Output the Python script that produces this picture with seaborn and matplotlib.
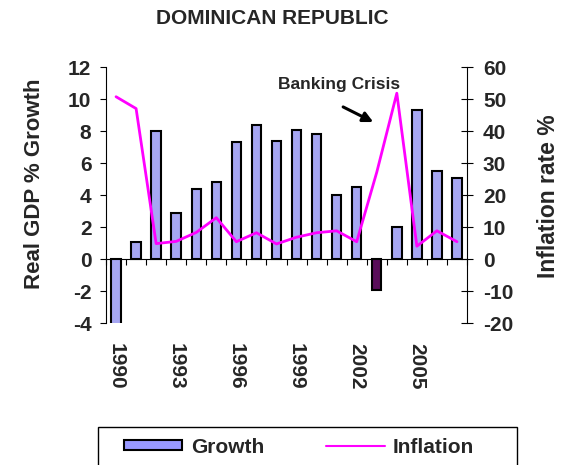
import numpy as np
import seaborn as sns
import matplotlib.pyplot as plt
from matplotlib.patches import Patch, Rectangle
from matplotlib.lines import Line2D

# data
years = [str(y) for y in range(1990, 2008)]
growth = [-5.5, 1.1, 8.0, 2.9, 4.4, 4.8, 7.3, 8.4, 7.4, 8.1, 7.8, 4.0, 4.5, -1.9, 2.0, 9.3, 5.5, 5.1]
inflation = [50.8, 47.1, 4.9, 5.6, 8.4, 13.0, 5.5, 8.3, 4.8, 6.9, 8.3, 8.9, 5.5, 27.2, 51.9, 4.1, 8.9, 5.5]
crisis_year = "2003"

bar_col = "#9999FF"
crisis_col = "#660066"
line_col = "#FF00FF"
bar_colors = [crisis_col if y == crisis_year else bar_col for y in years]

sns.set_theme(style="white")
plt.rcParams["font.family"] = ["Liberation Sans", "DejaVu Sans"]
plt.rcParams["font.weight"] = "bold"

fig = plt.figure(figsize=(5.66, 4.65), dpi=100)
ax = fig.add_axes([0.1873, 0.3047, 0.6378, 0.5506])

sns.barplot(x=years, y=growth, hue=years, palette=bar_colors, legend=False,
            width=0.47, edgecolor="black", linewidth=1.5, ax=ax)
ax.set_xlim(-0.5, len(years) - 0.5)
ax.set_ylim(-4, 12)
ax.set_yticks(range(-4, 13, 2))
ax.set_yticklabels([str(v) for v in range(-4, 13, 2)], fontsize=15, fontweight="bold")
ax.set_xticks(range(0, len(years), 3))
ax.set_xticklabels(years[::3], rotation=270, fontsize=15, fontweight="bold")
ax.tick_params(axis="x", length=0, pad=14)
ax.tick_params(axis="y", direction="out", length=4.5, width=0.8, color="black", left=True, pad=6)
ax.set_xlabel("")
ax.set_ylabel("Real GDP % Growth", fontsize=16, fontweight="bold")
ax.yaxis.set_label_coords(-0.168, 0.544)
for s in ["top", "right", "bottom"]:
    ax.spines[s].set_visible(False)
ax.spines["left"].set_color("black")
ax.spines["left"].set_linewidth(0.8)

# zero line with ticks between categories
zero_pos = (0 - ax.get_ylim()[0]) / (ax.get_ylim()[1] - ax.get_ylim()[0])
sec = ax.secondary_xaxis(zero_pos)
sec.set_xticks(np.arange(len(years) + 1) - 0.5)
sec.set_xticklabels([])
sec.tick_params(direction="out", length=4.5, width=0.8, color="black")
sec.spines["bottom"].set_color("black")
sec.spines["bottom"].set_linewidth(0.8)

ax2 = ax.twinx()
sns.lineplot(x=np.arange(len(years)), y=inflation, color=line_col, linewidth=2, ax=ax2)
ax2.set_ylim(-20, 60)
ax2.set_yticks(range(-20, 61, 10))
ax2.set_yticklabels([str(v) for v in range(-20, 61, 10)], fontsize=15, fontweight="bold")
ax2.tick_params(axis="y", direction="inout", length=9, width=0.8, color="black", right=True, pad=7)
ax2.set_ylabel("Inflation rate %", fontsize=16.5, fontweight="bold", rotation=90)
ax2.yaxis.set_label_coords(1.194, 0.495)
for s in ["top", "left", "bottom"]:
    ax2.spines[s].set_visible(False)
ax2.spines["right"].set_color("black")
ax2.spines["right"].set_linewidth(0.8)
ax2.set_xlim(-0.5, len(years) - 0.5)

ax.annotate("", xy=(12.95, 8.5), xytext=(11.2, 9.6),
            arrowprops=dict(arrowstyle="-|>", color="black", lw=2.2, mutation_scale=15))
ax.text(11.1, 10.95, "Banking Crisis", ha="center", va="center", fontsize=12.5, fontweight="bold")

fig.text(0.481, 0.961, "DOMINICAN REPUBLIC", ha="center", va="center", fontsize=15, fontweight="bold")

# legend frame and entries
fig.patches.append(Rectangle((98 / 566, -0.05), (517 - 98) / 566, (465 - 427) / 465 + 0.05,
                             transform=fig.transFigure, fill=False, edgecolor="black", linewidth=1.0))
handles = [Patch(facecolor=bar_col, edgecolor="black", linewidth=1.5),
           Line2D([], [], color=line_col, linewidth=1.5)]
leg = fig.legend(handles, ["Growth", "Inflation"], loc="center left",
                 bbox_to_anchor=(124 / 566, 1 - 447 / 465),
                 ncol=2, frameon=False, prop={"size": 15, "weight": "bold"},
                 handlelength=2.8, handleheight=0.35, handletextpad=0.4,
                 columnspacing=3.0, borderpad=0, borderaxespad=0)

fig.savefig("out.png", dpi=100)
